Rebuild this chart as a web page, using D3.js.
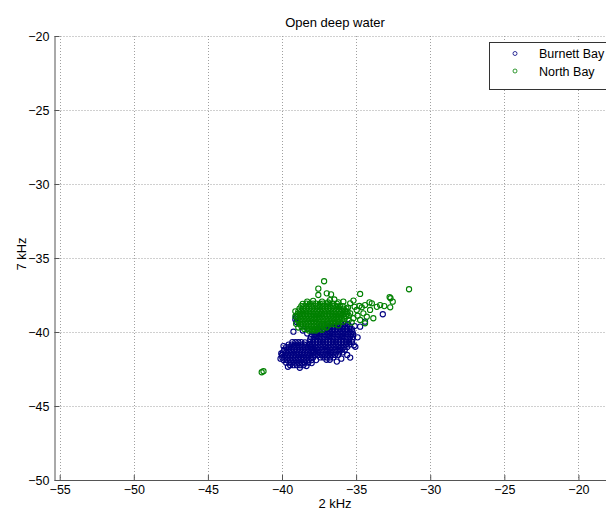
<!DOCTYPE html>
<html>
<head>
<meta charset="utf-8">
<script src="https://cdn.jsdelivr.net/npm/d3@7"></script>
<style>
  body { margin: 0; background: #fff; }
  svg { display: block; font-family: "Liberation Sans", Arial, sans-serif; }
</style>
</head>
<body>
<svg width="606" height="510"></svg>
<script>
var width = 606, height = 510;

var chartTitle = "Open deep water";
var xLabel = "2 kHz";
var yLabel = "7 kHz";
var seriesNames = ["Burnett Bay", "North Bay"];
var seriesColors = ["#000080", "#008000"];

var xTicks = [-55, -50, -45, -40, -35, -30, -25, -20];
var yTicks = [-50, -45, -40, -35, -30, -25, -20];

// Burnett Bay, rows of [y, [x...]]
var burnettRows = [
  // left cluster
  [-40.68, [-39.3, -39.1, -38.9, -38.7]],
  [-40.85, [-39.55, -39.35, -39.14, -38.93, -38.72, -38.5, -38.3]],
  [-41.02, [-39.72, -39.52, -39.3, -39.1, -38.88, -38.67, -38.46, -38.25, -38.05]],
  [-41.2,  [-39.85, -39.63, -39.42, -39.21, -39.0, -38.78, -38.57, -38.36, -38.15, -37.95]],
  [-41.38, [-39.93, -39.72, -39.5, -39.3, -39.08, -38.87, -38.66, -38.45, -38.24, -38.02, -37.85]],
  [-41.55, [-40.0, -39.8, -39.58, -39.37, -39.16, -38.95, -38.74, -38.53, -38.31, -38.1, -37.9]],
  [-41.72, [-39.98, -39.77, -39.56, -39.35, -39.13, -38.92, -38.71, -38.5, -38.28, -38.07, -37.9]],
  [-41.9,  [-39.9, -39.68, -39.47, -39.26, -39.05, -38.84, -38.62, -38.41, -38.2, -38.0]],
  [-42.07, [-39.72, -39.5, -39.29, -39.08, -38.87, -38.66, -38.45, -38.23]],
  [-42.24, [-39.45, -39.22, -39.0, -38.78, -38.56]],
  // right cluster
  [-39.45, [-36.9, -36.68, -36.45, -36.22, -36.0, -35.78, -35.55]],
  [-39.62, [-37.4, -37.18, -36.96, -36.74, -36.52, -36.3, -36.08, -35.86, -35.64, -35.42]],
  [-39.8,  [-37.65, -37.43, -37.21, -36.99, -36.77, -36.55, -36.33, -36.11, -35.89, -35.67, -35.45, -35.28]],
  [-39.97, [-37.85, -37.62, -37.4, -37.18, -36.96, -36.74, -36.52, -36.3, -36.08, -35.86, -35.64, -35.42, -35.25]],
  [-40.15, [-37.98, -37.76, -37.54, -37.32, -37.1, -36.88, -36.66, -36.44, -36.22, -36.0, -35.78, -35.56, -35.34, -35.2]],
  [-40.33, [-38.05, -37.83, -37.61, -37.39, -37.17, -36.95, -36.73, -36.51, -36.29, -36.07, -35.85, -35.63, -35.41, -35.22]],
  [-40.5,  [-38.1, -37.88, -37.66, -37.44, -37.22, -37.0, -36.78, -36.56, -36.34, -36.12, -35.9, -35.68, -35.46, -35.25]],
  [-40.68, [-38.12, -37.9, -37.68, -37.46, -37.24, -37.02, -36.8, -36.58, -36.36, -36.14, -35.92, -35.7, -35.48, -35.28]],
  [-40.85, [-38.1, -37.88, -37.66, -37.44, -37.22, -37.0, -36.78, -36.56, -36.34, -36.12, -35.9, -35.68, -35.45]],
  [-41.02, [-38.02, -37.8, -37.58, -37.36, -37.14, -36.92, -36.7, -36.48, -36.26, -36.04, -35.82, -35.6]],
  [-41.2,  [-37.96, -37.74, -37.52, -37.3, -37.08, -36.86, -36.64, -36.42, -36.2, -35.98, -35.76]],
  [-41.38, [-37.9, -37.68, -37.46, -37.24, -37.02, -36.8, -36.58, -36.36, -36.14, -35.92]],
  [-41.55, [-37.75, -37.53, -37.31, -37.09, -36.87, -36.65, -36.43, -36.21]],
  [-41.72, [-37.42, -37.2, -36.98, -36.76, -36.54]],
  [-41.88, [-37.0, -36.78]]
];
var burnettExtra = [
  [-40.1, -41.8], [-40.05, -41.45], [-39.6, -42.35], [-38.8, -42.42], [-38.35, -42.3],
  [-39.9, -40.95], [-38.1, -40.8], [-38.0, -42.1], [-37.7, -41.9], [-35.4, -41.73],
  [-34.9, -40.36], [-34.73, -39.64], [-34.4, -39.3], [-33.2, -38.8], [-35.05, -41.0],
  [-35.6, -41.55], [-36.3, -42.0], [-38.45, -40.7], [-39.05, -39.0], [-39.1, -39.15],
  [-39.02, -39.32], [-39.23, -39.98], [-38.6, -39.9], [-38.3, -40.1], [-37.95, -39.95],
  [-35.1, -39.6], [-35.15, -40.9], [-36.0, -41.8]
];

// North Bay
var northRows = [
  [-38.08, [-38.35, -38.12, -37.9, -37.7, -37.45, -37.25, -37.0, -36.8, -36.55, -36.3]],
  [-38.25, [-38.7, -38.5, -38.28, -38.05, -37.86, -37.62, -37.41, -37.2, -36.98, -36.77, -36.55, -36.33, -36.1, -35.9]],
  [-38.42, [-38.82, -38.6, -38.4, -38.18, -37.97, -37.76, -37.55, -37.33, -37.12, -36.9, -36.7, -36.48, -36.27, -36.05, -35.83, -35.65]],
  [-38.6,  [-38.9, -38.7, -38.48, -38.27, -38.06, -37.85, -37.63, -37.42, -37.2, -37.0, -36.79, -36.57, -36.36, -36.15, -35.93, -35.72, -35.58]],
  [-38.77, [-38.95, -38.75, -38.54, -38.33, -38.12, -37.9, -37.7, -37.48, -37.27, -37.06, -36.84, -36.63, -36.42, -36.2, -36.0, -35.78, -35.6]],
  [-38.95, [-38.97, -38.78, -38.57, -38.36, -38.15, -37.94, -37.72, -37.51, -37.3, -37.09, -36.87, -36.66, -36.45, -36.24, -36.02, -35.82, -35.66]],
  [-39.12, [-38.93, -38.72, -38.5, -38.3, -38.08, -37.87, -37.66, -37.45, -37.23, -37.02, -36.81, -36.6, -36.38, -36.17, -35.96, -35.78]],
  [-39.3,  [-38.88, -38.66, -38.45, -38.24, -38.03, -37.82, -37.6, -37.39, -37.18, -36.96, -36.75, -36.54, -36.32, -36.12]],
  [-39.47, [-38.8, -38.6, -38.38, -38.17, -37.96, -37.75, -37.53, -37.32, -37.11, -36.9, -36.68, -36.47]],
  [-39.64, [-38.68, -38.47, -38.26, -38.05, -37.84, -37.62, -37.41, -37.2, -36.98]],
  [-39.8,  [-38.5, -38.29, -38.08, -37.86, -37.65, -37.44]],
  [-39.9,  [-38.2, -37.95, -37.72]]
];
var northExtra = [
  [-41.37, -42.72], [-41.25, -42.65], [-37.16, -36.57], [-37.55, -37.07], [-36.98, -37.39],
  [-36.69, -37.46], [-37.55, -37.5], [-36.76, -37.84], [-36.47, -37.8], [-35.86, -37.95],
  [-35.4, -38.06], [-35.18, -37.88], [-34.73, -37.43], [-31.43, -37.11], [-32.74, -37.64],
  [-32.68, -37.72], [-32.53, -37.95], [-32.7, -38.33], [-33.38, -38.18], [-33.94, -38.06],
  [-34.1, -38.0], [-34.4, -38.18], [-34.06, -38.51], [-33.84, -39.07], [-34.51, -38.74],
  [-34.96, -38.51], [-34.62, -38.33], [-34.28, -38.97], [-34.73, -39.19], [-35.18, -39.07],
  [-34.4, -39.41], [-35.4, -38.74], [-35.74, -38.63], [-34.78, -38.24], [-35.3, -39.35],
  [-35.5, -39.2], [-35.1, -38.3], [-34.9, -38.9], [-35.55, -38.35], [-33.6, -38.3],
  [-33.1, -38.25], [-38.3, -37.95], [-37.9, -37.9], [-37.3, -37.95], [-36.9, -38.0],
  [-36.2, -38.0], [-38.6, -38.1], [-39.1, -38.6], [-39.1, -38.95], [-39.05, -39.45],
  [-38.9, -39.7], [-37.3, -39.85], [-37.0, -39.7], [-36.2, -39.55], [-35.9, -39.3],
  [-35.5, -38.9]
];

function flatten(rows, extra) {
  var pts = [];
  rows.forEach(function(r) {
    r[1].forEach(function(x) { pts.push([x, r[0]]); });
  });
  return pts.concat(extra);
}

var series = [flatten(burnettRows, burnettExtra), flatten(northRows, northExtra)];

var plot = {left: 54.5, right: 615.5, top: 36, bottom: 480};

var xScale = d3.scaleLinear().domain([-55.35, -17.5]).range([plot.left, plot.right]);
var yScale = d3.scaleLinear().domain([-50, -20]).range([plot.bottom, plot.top]);

var svg = d3.select("svg");

// grid
var grid = svg.append("g")
  .attr("stroke", "#a0a0a0")
  .attr("stroke-width", 1)
  .attr("stroke-dasharray", "1,2");

grid.selectAll(".gx")
  .data(xTicks)
  .enter().append("line")
  .attr("x1", function(d) { return Math.round(xScale(d)) + 0.5; })
  .attr("x2", function(d) { return Math.round(xScale(d)) + 0.5; })
  .attr("y1", plot.top)
  .attr("y2", plot.bottom);

grid.selectAll(".gy")
  .data(yTicks)
  .enter().append("line")
  .attr("y1", function(d) { return Math.round(yScale(d)) + 0.5; })
  .attr("y2", function(d) { return Math.round(yScale(d)) + 0.5; })
  .attr("x1", plot.left)
  .attr("x2", plot.right);

// axes
var xAxis = svg.append("g")
  .attr("transform", "translate(0," + plot.bottom + ")")
  .call(d3.axisBottom(xScale).tickValues(xTicks).tickSize(-5).tickPadding(5).tickSizeOuter(0));

var yAxis = svg.append("g")
  .attr("transform", "translate(" + plot.left + ",0)")
  .call(d3.axisLeft(yScale).tickValues(yTicks).tickSize(-5).tickPadding(5).tickSizeOuter(0));

[xAxis, yAxis].forEach(function(a) {
  a.select(".domain").attr("stroke", "#555");
  a.selectAll(".tick line").attr("stroke", "#555");
  a.selectAll(".tick text")
    .attr("fill", "#000")
    .style("font-size", "12.5px")
    .style("font-family", "'Liberation Sans', Arial, sans-serif");
});

// points
series.forEach(function(pts, i) {
  svg.append("g")
    .selectAll("circle")
    .data(pts)
    .enter().append("circle")
    .attr("cx", function(d) { return xScale(d[0]); })
    .attr("cy", function(d) { return yScale(d[1]); })
    .attr("r", 2.6)
    .attr("fill", "none")
    .attr("stroke", seriesColors[i])
    .attr("stroke-width", 1.1);
});

// legend
var legend = svg.append("g");
legend.append("rect")
  .attr("x", 489.5).attr("y", 42.5)
  .attr("width", 140).attr("height", 47)
  .attr("fill", "#fff").attr("stroke", "#333").attr("stroke-width", 1);

seriesNames.forEach(function(name, i) {
  var cy = 53.5 + i * 17.5;
  legend.append("circle")
    .attr("cx", 515).attr("cy", cy).attr("r", 2)
    .attr("fill", "none").attr("stroke", seriesColors[i]).attr("stroke-width", 0.8);
  legend.append("text")
    .attr("x", 539).attr("y", cy + 4.5)
    .style("font-size", "12.5px")
    .text(name);
});

// labels
svg.append("text")
  .attr("x", (plot.left + plot.right) / 2)
  .attr("y", 27)
  .attr("text-anchor", "middle")
  .style("font-size", "13px")
  .text(chartTitle);

svg.append("text")
  .attr("x", (plot.left + plot.right) / 2)
  .attr("y", 508)
  .attr("text-anchor", "middle")
  .style("font-size", "13px")
  .text(xLabel);

svg.append("text")
  .attr("transform", "translate(26," + 254 + ") rotate(-90)")
  .attr("text-anchor", "middle")
  .style("font-size", "13px")
  .text(yLabel);
</script>
</body>
</html>
